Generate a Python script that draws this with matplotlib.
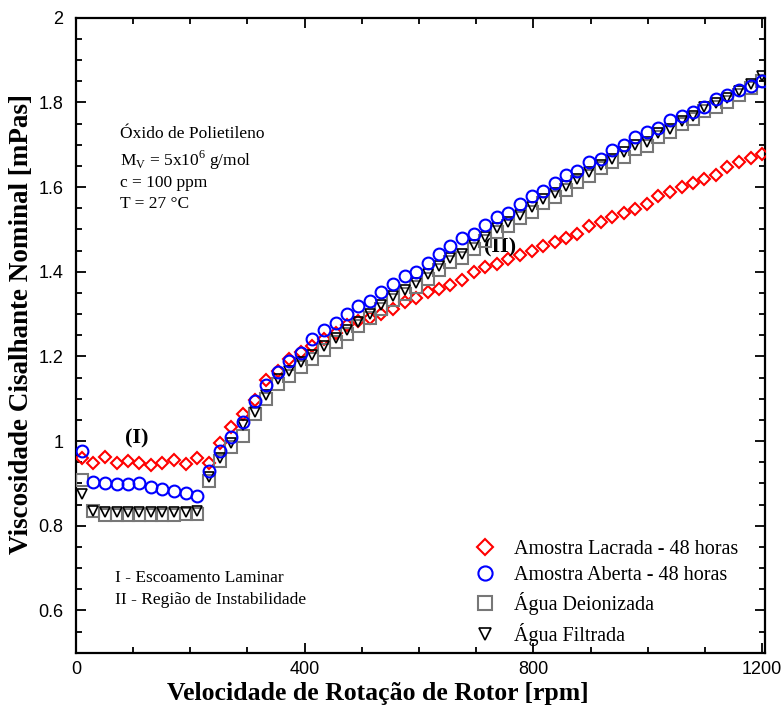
import matplotlib
matplotlib.use("Agg")
import matplotlib.pyplot as plt
from matplotlib.ticker import MultipleLocator, FormatStrFormatter

plt.rcParams['font.family'] = ['Liberation Serif', 'DejaVu Serif']
plt.rcParams['mathtext.fontset'] = 'custom'
plt.rcParams['mathtext.rm'] = 'Liberation Serif'

# rotor speed [rpm]
rpm = [10, 30, 50, 71, 91, 111, 131, 151, 171, 192,
       212, 232, 252, 272, 292, 313, 333, 353, 373, 393,
       413, 434, 454, 474, 494, 514, 534, 555, 575, 595,
       615, 635, 655, 676, 696, 716, 736, 756, 776, 797,
       817, 837, 857, 877, 897, 918, 938, 958, 978, 998,
       1018, 1039, 1059, 1079, 1099, 1119, 1139, 1160, 1180, 1200]

# nominal shear viscosity [mPas]
lacrada = [0.960, 0.948, 0.962, 0.948, 0.954, 0.948, 0.943, 0.948, 0.955, 0.946,
           0.960, 0.948, 0.995, 1.033, 1.064, 1.097, 1.144, 1.165, 1.193, 1.210,
           1.224, 1.242, 1.256, 1.274, 1.283, 1.291, 1.301, 1.311, 1.329, 1.338,
           1.351, 1.360, 1.369, 1.380, 1.400, 1.411, 1.419, 1.429, 1.440, 1.449,
           1.460, 1.470, 1.480, 1.489, 1.509, 1.518, 1.529, 1.538, 1.549, 1.560,
           1.579, 1.589, 1.599, 1.609, 1.619, 1.628, 1.648, 1.658, 1.668, 1.678]

aberta = [0.976, 0.904, 0.901, 0.899, 0.899, 0.900, 0.892, 0.888, 0.882, 0.878,
          0.870, 0.930, 0.977, 1.010, 1.045, 1.094, 1.133, 1.162, 1.190, 1.209,
          1.240, 1.262, 1.280, 1.301, 1.319, 1.330, 1.351, 1.370, 1.389, 1.400,
          1.420, 1.442, 1.460, 1.479, 1.490, 1.510, 1.529, 1.539, 1.559, 1.578,
          1.590, 1.609, 1.628, 1.638, 1.660, 1.667, 1.687, 1.699, 1.718, 1.729,
          1.739, 1.758, 1.768, 1.778, 1.789, 1.809, 1.818, 1.829, 1.839, 1.851]

deionizada = [0.908, 0.835, 0.825, 0.826, 0.826, 0.825, 0.826, 0.826, 0.826, 0.827,
              0.828, 0.905, 0.953, 0.986, 1.012, 1.063, 1.100, 1.134, 1.154, 1.174,
              1.194, 1.215, 1.233, 1.252, 1.272, 1.291, 1.311, 1.333, 1.348, 1.364,
              1.384, 1.403, 1.423, 1.432, 1.454, 1.473, 1.494, 1.509, 1.526, 1.542,
              1.562, 1.576, 1.594, 1.611, 1.625, 1.644, 1.658, 1.672, 1.690, 1.697,
              1.718, 1.729, 1.748, 1.760, 1.780, 1.789, 1.802, 1.817, 1.835, 1.851]

filtrada = [0.875, 0.836, 0.832, 0.833, 0.832, 0.833, 0.832, 0.833, 0.833, 0.832,
            0.834, 0.915, 0.960, 0.996, 1.038, 1.068, 1.109, 1.146, 1.166, 1.186,
            1.204, 1.224, 1.244, 1.262, 1.282, 1.300, 1.321, 1.342, 1.358, 1.374,
            1.394, 1.413, 1.432, 1.442, 1.463, 1.482, 1.503, 1.518, 1.535, 1.552,
            1.571, 1.586, 1.603, 1.620, 1.635, 1.653, 1.667, 1.682, 1.699, 1.707,
            1.727, 1.738, 1.757, 1.769, 1.788, 1.798, 1.811, 1.826, 1.843, 1.862]

fig = plt.figure(figsize=(7.83, 7.08), dpi=100)
ax = fig.add_axes([0.097, 0.078, 0.880, 0.897])

ax.plot(rpm, lacrada, 'D', ms=6.5, mfc='none', mec='#ff0000', mew=1.5,
        label='Amostra Lacrada - 48 horas', zorder=3)
ax.plot(rpm, aberta, 'o', ms=8.5, mfc='none', mec='#0000ff', mew=1.5,
        label='Amostra Aberta - 48 horas', zorder=6)
ax.plot(rpm, deionizada, 's', ms=8, mfc='none', mec='#777777', mew=1.5,
        label='Água Deionizada', zorder=4)
ax.plot(rpm, filtrada, 'v', ms=7.5, mfc='none', mec='black', mew=1.2,
        label='Água Filtrada', zorder=5)

ax.set_xlim(0, 1205)
ax.set_ylim(0.5, 2.0)
ax.xaxis.set_major_locator(MultipleLocator(400))
ax.xaxis.set_minor_locator(MultipleLocator(100))
ax.yaxis.set_major_locator(MultipleLocator(0.2))
ax.yaxis.set_minor_locator(MultipleLocator(0.05))
ax.yaxis.set_major_formatter(FormatStrFormatter('%g'))
ax.tick_params(which='both', direction='in', top=True, right=True, width=1.3)
ax.tick_params(which='major', length=7, labelsize=13)
ax.tick_params(which='minor', length=4)
ax.tick_params(axis='x', which='major', pad=6)
ax.tick_params(axis='y', which='major', pad=9)
for lab in ax.get_xticklabels() + ax.get_yticklabels():
    lab.set_family('Liberation Sans')
for s in ax.spines.values():
    s.set_linewidth(1.6)

ax.set_xlabel('Velocidade de Rotação de Rotor [rpm]', fontsize=18.5,
              fontweight='bold')
ax.set_ylabel('Viscosidade Cisalhante Nominal [mPas]', fontsize=19.5,
              fontweight='bold')
ax.xaxis.set_label_coords(0.438, -0.046)
ax.yaxis.set_label_coords(-0.061, 0.517)

tr = ax.transAxes
ax.text(0.064, 0.817, 'Óxido de Polietileno', transform=tr, fontsize=12.5, va='center')
ax.text(0.064, 0.776, r'M$_\mathregular{V}$ = 5x10$^\mathregular{6}$ g/mol', transform=tr,
        fontsize=12.5, va='center')
ax.text(0.064, 0.739, 'c = 100 ppm', transform=tr, fontsize=12.5, va='center')
ax.text(0.064, 0.707, 'T = 27 °C', transform=tr, fontsize=12.5, va='center')
ax.text(0.0885, 0.337, '(I)', transform=tr, fontsize=16, fontweight='bold',
        ha='center', va='center')
ax.text(0.615, 0.638, '(II)', transform=tr, fontsize=16, fontweight='bold',
        ha='center', va='center')
ax.text(0.057, 0.118, 'I - Escoamento Laminar', transform=tr, fontsize=12.5, va='center')
ax.text(0.057, 0.083, 'II - Região de Instabilidade', transform=tr, fontsize=12.5,
        va='center')

ax.legend(loc='lower left', bbox_to_anchor=(0.5675, -0.0015), frameon=False,
          fontsize=14.5, markerscale=1.2, handlelength=1.0, handletextpad=0.95,
          labelspacing=0.36, borderaxespad=0.0)

fig.savefig('out.png', dpi=100)
